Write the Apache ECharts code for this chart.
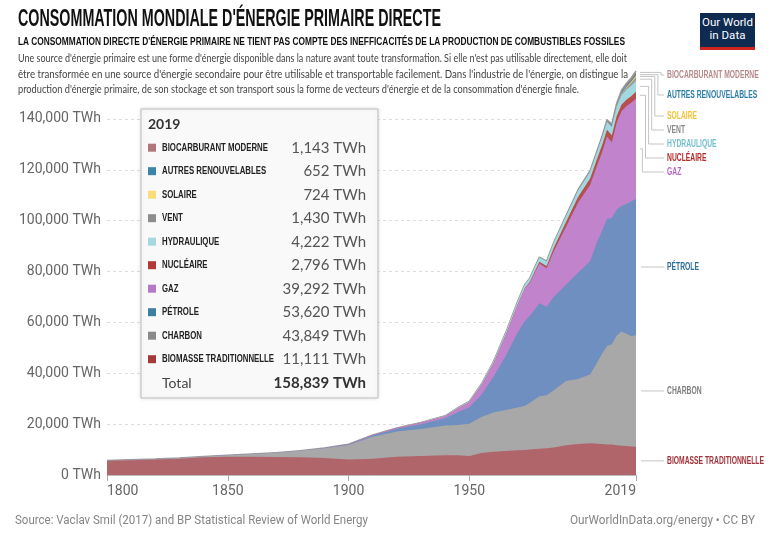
<!DOCTYPE html>
<html>
<head>
  <meta charset="utf-8">
  <title>Consommation mondiale d'énergie primaire directe</title>
  <script src="https://cdn.jsdelivr.net/npm/echarts@6/dist/echarts.min.js"></script>
  <style>
    body { margin: 0; background: #fff; }
    #wrap { position: relative; width: 768px; height: 542px; overflow: hidden; }
    #main { position: absolute; left: 0; top: 0; width: 768px; height: 542px; }
    .fit { position: absolute; white-space: nowrap; transform-origin: 0 0; }
    #title { left: 18px; top: 7px; font: bold 23px/23px "Liberation Sans Narrow", "Liberation Sans", sans-serif; color: #111; }
    #subtitle { left: 18px; top: 35px; font: bold 11.5px/12px "Liberation Sans Narrow", "Liberation Sans", sans-serif; color: #111; }
    .desc { left: 18px; font: 11px/15px Lato, "Noto Sans", sans-serif; color: #444; }
    .foot { top: 514px; font: 12px/13px Roboto, "Liberation Sans", sans-serif; color: #858585; }
    #logo { position: absolute; left: 700px; top: 13px; width: 55px; height: 31px; background: #0f2b52;
            border-bottom: 3px solid #ce261e; color: #fff; text-align: center;
            font: 11.5px/13px Roboto, "Liberation Sans", sans-serif; padding-top: 3px; box-sizing: content-box; }
  </style>
</head>
<body>
<div id="wrap">
  <div id="main"></div>
  <div id="title" class="fit" data-w="423">CONSOMMATION MONDIALE D'ÉNERGIE PRIMAIRE DIRECTE</div>
  <div id="subtitle" class="fit" data-w="607">LA CONSOMMATION DIRECTE D'ÉNERGIE PRIMAIRE NE TIENT PAS COMPTE DES INEFFICACITÉS DE LA PRODUCTION DE COMBUSTIBLES FOSSILES</div>
  <div class="fit desc" style="top: 50px" data-w="609">Une source d'énergie primaire est une forme d'énergie disponible dans la nature avant toute transformation. Si elle n'est pas utilisable directement, elle doit</div>
  <div class="fit desc" style="top: 66px" data-w="610">être transformée en une source d'énergie secondaire pour être utilisable et transportable facilement. Dans l'industrie de l'énergie, on distingue la</div>
  <div class="fit desc" style="top: 81px" data-w="561">production d'énergie primaire, de son stockage et son transport sous la forme de vecteurs d'énergie et de la consommation d'énergie finale.</div>
  <div id="logo">Our World<br>in Data</div>
  <div class="fit foot" style="left: 15px" data-w="353">Source: Vaclav Smil (2017) and BP Statistical Review of World Energy</div>
  <div class="fit foot" style="left: 570px" data-w="185">OurWorldInData.org/energy • CC BY</div>
</div>

<script>
  // Années et consommation par source (TWh)
  const years = [1800, 1810, 1820, 1830, 1840, 1850, 1860, 1870, 1880, 1890, 1900, 1910, 1920, 1930, 1940,
    1945, 1950, 1955, 1960, 1965, 1970, 1973, 1975, 1979, 1982, 1985,
    1990, 1995, 2000, 2003, 2005, 2007, 2009, 2011, 2013, 2015, 2017, 2019];

  const biomasse = [5556, 5833, 6111, 6389, 6944, 7222, 7222, 7083, 6944, 6667, 6111, 6389, 7222, 7500, 7778,
    7778, 7500, 8611, 9167, 9444, 9722, 9861, 10000, 10278, 10556, 10833,
    11667, 12222, 12500, 12300, 12222, 12000, 11944, 11667, 11528, 11389, 11250, 11111];
  const charbon = [97, 128, 153, 264, 356, 569, 1061, 1642, 2542, 3856, 5728, 8611, 9833, 10600, 11700,
    11900, 12603, 14200, 15442, 16140, 16860, 17400, 18300, 20700, 20800, 22500,
    25300, 25500, 27000, 32000, 35500, 38700, 39500, 43200, 44900, 44100, 43400, 43849];
  const petrole = [0, 0, 0, 0, 0, 0, 0, 6, 33, 89, 181, 500, 1100, 1900, 2800,
    4900, 6500, 8700, 14050, 21100, 29400, 33300, 34200, 36500, 34800, 36700,
    37800, 41800, 44500, 47700, 48300, 50000, 49600, 49500, 49300, 51000, 52850, 53620];
  const gaz = [0, 0, 0, 0, 0, 0, 0, 0, 33, 40, 64, 178, 280, 500, 800,
    1500, 2000, 3800, 5260, 8200, 11000, 12800, 13000, 15700, 15100, 18000,
    22700, 27500, 30000, 30000, 31000, 32300, 29800, 34100, 37300, 38500, 38800, 39292];
  const nucleaire = [0, 0, 0, 0, 0, 0, 0, 0, 0, 0, 0, 0, 0, 0, 0,
    0, 0, 0, 1, 24, 80, 200, 380, 680, 900, 1430,
    2000, 2300, 2580, 2630, 2770, 2740, 2690, 2650, 2490, 2570, 2640, 2796];
  const hydraulique = [0, 0, 0, 0, 0, 0, 0, 0, 0, 0, 10, 30, 65, 130, 190,
    250, 330, 470, 690, 920, 1170, 1310, 1440, 1670, 1760, 1920,
    2160, 2470, 2650, 2690, 2900, 3040, 3250, 3500, 3780, 3880, 4060, 4222];
  const vent = [0, 0, 0, 0, 0, 0, 0, 0, 0, 0, 0, 0, 0, 0, 0,
    0, 0, 0, 0, 0, 0, 0, 0, 0, 0, 0,
    4, 8, 31, 63, 104, 171, 276, 437, 636, 831, 1135, 1430];
  const solaire = [0, 0, 0, 0, 0, 0, 0, 0, 0, 0, 0, 0, 0, 0, 0,
    0, 0, 0, 0, 0, 0, 0, 0, 0, 0, 0,
    0, 0, 1, 2, 4, 7, 20, 64, 124, 250, 442, 724];
  const autres = [0, 0, 0, 0, 0, 0, 0, 0, 0, 0, 0, 0, 0, 0, 0,
    0, 0, 0, 0, 30, 40, 50, 60, 80, 100, 140,
    190, 220, 250, 280, 310, 350, 380, 430, 480, 540, 600, 652];
  const biocarburant = [0, 0, 0, 0, 0, 0, 0, 0, 0, 0, 0, 0, 0, 0, 0,
    0, 0, 0, 0, 0, 0, 0, 0, 40, 70, 90,
    100, 120, 110, 150, 220, 360, 520, 610, 720, 830, 940, 1143];

  const xTickYears = [1800, 1850, 1900, 1950, 2019];

  // de bas en haut
  const sources = [
    { name: 'Biomasse traditionnelle', data: biomasse, area: '#b0656a', swatch: '#a8393b', text: '#a3323a' },
    { name: 'Charbon', data: charbon, area: '#a8a8a8', swatch: '#8a8a8a', text: '#7d7d7d' },
    { name: 'Pétrole', data: petrole, area: '#6f8fc0', swatch: '#3b7fa1', text: '#2b6f95' },
    { name: 'Gaz', data: gaz, area: '#c183cb', swatch: '#b47ac7', text: '#b566c4' },
    { name: 'Nucléaire', data: nucleaire, area: '#b5504f', swatch: '#b53838', text: '#b32b2b' },
    { name: 'Hydraulique', data: hydraulique, area: '#a2d9e1', swatch: '#a7d7df', text: '#74bfcc' },
    { name: 'Vent', data: vent, area: '#9b9b9b', swatch: '#8d8d8d', text: '#8a8a8a' },
    { name: 'Solaire', data: solaire, area: '#f3d36b', swatch: '#f7de79', text: '#f0c53c' },
    { name: 'Autres renouvelables', data: autres, area: '#4a8db0', swatch: '#3d84a7', text: '#2f7ea4' },
    { name: 'Biocarburant moderne', data: biocarburant, area: '#a9797c', swatch: '#b0767a', text: '#b68a8c' }
  ];

  // cumul (empilement) calculé ici : chaque couche part de zéro, la plus haute est dessinée en premier
  const running = years.map(() => 0);
  sources.forEach(s => {
    s.top = s.data.map((v, i) => (running[i] += v));
  });

  // ajuste la largeur des textes HTML (police condensée)
  document.querySelectorAll('.fit').forEach(el => {
    const w = el.getBoundingClientRect().width;
    el.style.transform = 'scaleX(' + (+el.dataset.w / w) + ')';
  });

  const chart = echarts.init(document.getElementById('main'));
  const fmt = v => v.toLocaleString('en-US');

  chart.setOption({
    animation: false,
    backgroundColor: '#fff',
    grid: { left: 107, right: 132, top: 68, bottom: 67 },
    xAxis: {
      type: 'value',
      min: 1800,
      max: 2019,
      axisLine: { show: true, lineStyle: { color: '#bbb' } },
      axisTick: { show: true, length: 6, customValues: xTickYears, lineStyle: { color: '#aaa' } },
      axisLabel: {
        customValues: xTickYears,
        formatter: v => String(v),
        alignMinLabel: 'left',
        alignMaxLabel: 'right',
        color: '#666',
        fontFamily: 'Roboto',
        fontSize: 14,
        margin: 9
      },
      splitLine: { show: false }
    },
    yAxis: {
      type: 'value',
      min: 0,
      max: 160000,
      interval: 20000,
      axisLine: { show: false },
      axisTick: { show: false },
      axisLabel: {
        formatter: v => fmt(v) + ' TWh',
        showMaxLabel: false,
        color: '#666',
        fontFamily: 'Roboto',
        fontSize: 14,
        margin: 6
      },
      splitLine: { show: true, showMaxLine: false, lineStyle: { color: '#ddd', type: [3, 3] } }
    },
    series: sources.slice().reverse().map((s, k) => ({
      name: s.name,
      type: 'line',
      symbol: 'none',
      silent: true,
      z: 2 + k,
      data: years.map((y, i) => [y, s.top[i]]),
      lineStyle: k === 0 ? { color: '#999', width: 1.5 } : { width: 0 },
      areaStyle: { color: s.area, opacity: 1 }
    }))
  });

  // mesure de texte pour simuler une police condensée
  const ctx = document.createElement('canvas').getContext('2d');
  const labelFont = 'bold 10px "Liberation Sans Narrow", "Liberation Sans", sans-serif';
  function textWidth(str, font) { ctx.font = font; return ctx.measureText(str).width; }
  const rightScale = 97 / textWidth('BIOMASSE TRADITIONNELLE', labelFont);
  const boxLabelFont = 'bold 10.5px "Liberation Sans Narrow", "Liberation Sans", sans-serif';
  const boxScale = 112 / textWidth('BIOMASSE TRADITIONNELLE', boxLabelFont);

  const last = years.length - 1;
  const graphics = [];

  // étiquettes à droite, du haut vers le bas
  const labelGaps = [20, 21, 14, 14, 14, 14];
  const mids = sources.map(s => {
    const mid = s.top[last] - s.data[last] / 2;
    return chart.convertToPixel({ gridIndex: 0 }, [2019, mid])[1];
  });
  const edgeX = chart.convertToPixel({ gridIndex: 0 }, [2019, 0])[0];
  const labelX = edgeX + 31;
  let prevY = null;
  let k = 0;
  for (let i = sources.length - 1; i >= 0; i--) {
    const j = sources.length - 1 - i;
    const y = prevY === null ? Math.max(mids[i], 75) : Math.max(mids[i], prevY + (labelGaps[j - 1] || 14));
    const pts = Math.abs(y - mids[i]) < 1
      ? [[edgeX + 5, y], [labelX - 3, y]]
      : [[edgeX + 4, mids[i]], [labelX - 6 - k * 3.1, mids[i]], [labelX - 6 - k * 3.1, y], [labelX - 3, y]];
    if (pts.length > 2) k++;
    graphics.push({ type: 'polyline', z: 100, shape: { points: pts }, style: { stroke: '#c4c4c4', lineWidth: 1, fill: null } });
    graphics.push({
      type: 'text', z: 100, x: labelX, y: y, scaleX: rightScale,
      style: { text: sources[i].name.toUpperCase(), font: labelFont, fill: sources[i].text, verticalAlign: 'middle' }
    });
    prevY = y;
  }

  // encadré 2019
  const box = { x: 141, y: 109, w: 237, h: 289 };
  graphics.push({
    type: 'rect', z: 100, shape: { x: box.x, y: box.y, width: box.w, height: box.h },
    style: { fill: 'rgba(250,250,251,0.97)', stroke: '#bdbdbd', lineWidth: 1, shadowBlur: 4, shadowColor: 'rgba(0,0,0,0.12)' }
  });
  graphics.push({
    type: 'text', z: 101, x: 148, y: 124,
    style: { text: String(years[last]), font: 'bold 14px Lato, sans-serif', fill: '#333', verticalAlign: 'middle' }
  });
  let total = 0;
  for (let i = sources.length - 1; i >= 0; i--) {
    const r = sources.length - 1 - i;
    const y = 147.7 + r * 23.5;
    const v = sources[i].data[last];
    total += v;
    graphics.push({ type: 'rect', z: 101, shape: { x: 148, y: y - 4, width: 8, height: 8 }, style: { fill: sources[i].swatch } });
    graphics.push({
      type: 'text', z: 101, x: 162, y: y, scaleX: boxScale,
      style: { text: sources[i].name.toUpperCase(), font: boxLabelFont, fill: '#222', verticalAlign: 'middle' }
    });
    graphics.push({
      type: 'text', z: 101, x: 366, y: y,
      style: { text: fmt(v) + ' TWh', font: '15px Lato, sans-serif', fill: '#555', align: 'right', verticalAlign: 'middle' }
    });
  }
  graphics.push({
    type: 'text', z: 101, x: 162, y: 383,
    style: { text: 'Total', font: '14px Lato, sans-serif', fill: '#444', verticalAlign: 'middle' }
  });
  graphics.push({
    type: 'text', z: 101, x: 366, y: 383,
    style: { text: fmt(total) + ' TWh', font: 'bold 15px Lato, sans-serif', fill: '#333', align: 'right', verticalAlign: 'middle' }
  });

  chart.setOption({ graphic: graphics });
</script>
</body>
</html>
